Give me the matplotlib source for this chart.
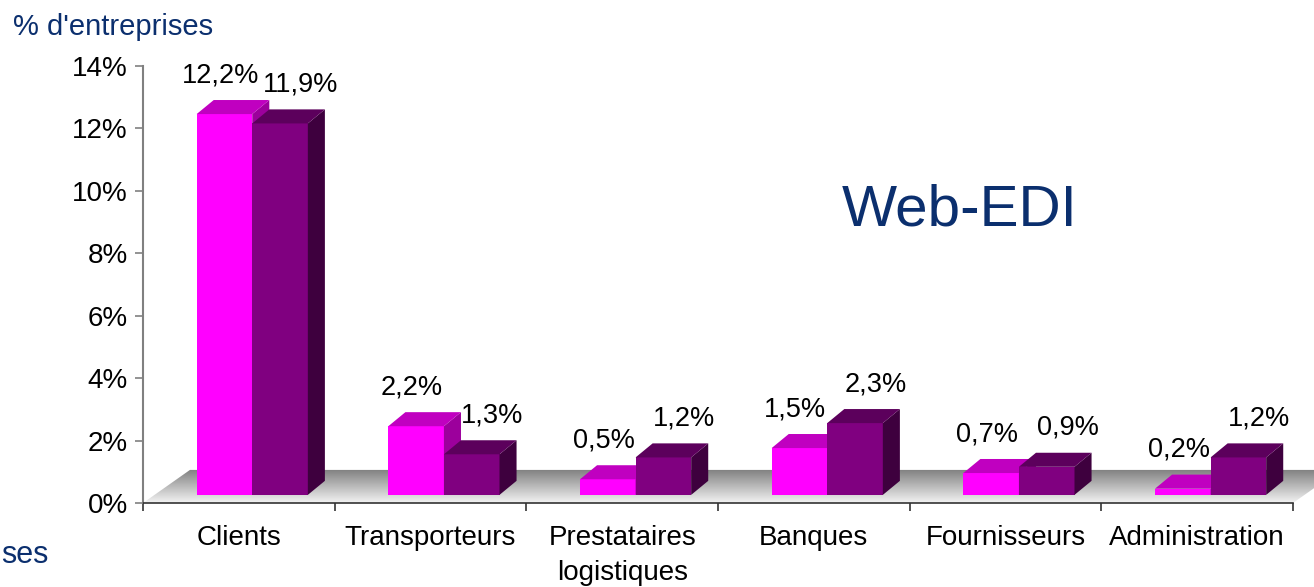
import numpy as np
import matplotlib.pyplot as plt
from matplotlib.patches import Polygon
from matplotlib.ticker import FuncFormatter

# Web-EDI : part d'entreprises par type de partenaire (deux séries)
categories = ['Clients', 'Transporteurs', 'Prestataires\nlogistiques', 'Banques',
              'Fournisseurs', 'Administration']
serie_rose = [12.2, 2.2, 0.5, 1.5, 0.7, 0.2]
serie_violet = [11.9, 1.3, 1.2, 2.3, 0.9, 1.2]
y_ticks = [0, 2, 4, 6, 8, 10, 12, 14]

ROSE = dict(front='#ff00ff', top='#c000c0', side='#9c009c')
VIOLET = dict(front='#800080', top='#5c005c', side='#3e003e')
BLUE = '#0b2f6e'

# fake-3D geometry (data units)
W = 0.29             # bar width
SHIFT = 0.07         # perspective shift of each pair
DX, DY = 0.089, 0.45  # bar depth
B0 = 0.26            # bars stand a bit into the floor
FDX, FDY = 0.245, 1.06  # floor depth

plt.rcParams['font.family'] = ['Liberation Sans', 'DejaVu Sans']

fig = plt.figure(figsize=(13.14, 5.87), dpi=100)
ax = fig.add_axes([143 / 1314, 84 / 587, (6.25 * 1150 / 6) / 1314, 437 / 587])

n = len(categories)

# floor with gradient
floor = Polygon([(0, 0), (n, 0), (n + FDX, FDY), (FDX, FDY)], closed=True,
                facecolor='none', edgecolor='none')
ax.add_patch(floor)
grad = np.linspace(0.95, 0.5, 64).reshape(-1, 1)
im = ax.imshow(grad, cmap='gray', vmin=0, vmax=1, origin='lower', aspect='auto',
               extent=(0, n + FDX, 0, FDY), zorder=1, interpolation='bilinear')
im.set_clip_path(floor)


def draw_bars(lefts, vals, col, z):
    ax.bar(lefts, vals, width=W, bottom=B0, align='edge', color=col['front'],
           zorder=z, linewidth=0)
    for l, v in zip(lefts, vals):
        t = B0 + v
        ax.add_patch(Polygon([(l + W, B0), (l + W + DX, B0 + DY), (l + W + DX, t + DY), (l + W, t)],
                             closed=True, color=col['side'], zorder=z, linewidth=0))
        ax.add_patch(Polygon([(l, t), (l + W, t), (l + W + DX, t + DY), (l + DX, t + DY)],
                             closed=True, color=col['top'], zorder=z, linewidth=0))


x = np.arange(n)
left_r = x + 0.5 + SHIFT - W
left_v = x + 0.5 + SHIFT
draw_bars(left_r, serie_rose, ROSE, 2)
draw_bars(left_v, serie_violet, VIOLET, 3)

fmt = lambda v: f'{v:.1f}%'.replace('.', ',')
for l, v in zip(left_r, serie_rose):
    ax.annotate(fmt(v), (l + W / 2, B0 + v), xytext=(-3, 28), textcoords='offset points',
                ha='center', va='center', fontsize=19.5, annotation_clip=False, zorder=5)
for l, v in zip(left_v, serie_violet):
    ax.annotate(fmt(v), (l + W / 2, B0 + v), xytext=(15, 28), textcoords='offset points',
                ha='center', va='center', fontsize=19.5, annotation_clip=False, zorder=5)

ax.set_xlim(0, n + 0.25)
ax.set_ylim(0, 14)
ax.set_yticks(y_ticks)
ax.yaxis.set_major_formatter(FuncFormatter(lambda v, p: f'{v:.0f}%'))
ax.tick_params(axis='y', labelsize=20, length=6, width=1.2, color='#808080', pad=5)

ax.set_xticks(x + 0.5)
ax.set_xticklabels(categories, fontsize=20, linespacing=1.45)
ax.set_xticks(np.arange(n + 1), minor=True)
ax.tick_params(axis='x', which='major', length=0, pad=16)
ax.tick_params(axis='x', which='minor', length=6, width=1.2, color='#333333')

for s in ('top', 'right'):
    ax.spines[s].set_visible(False)
ax.spines['bottom'].set_bounds(0, n)
ax.spines['bottom'].set_color('#333333')
ax.spines['bottom'].set_linewidth(1.2)
ax.spines['left'].set_color('#808080')
ax.spines['left'].set_linewidth(1.5)
ax.set_axisbelow(False)

fig.text(13 / 1314, 1 - 35 / 587, "% d'entreprises", fontsize=21, color=BLUE,
         ha='left', va='baseline')
fig.text(842 / 1314, 1 - 225 / 587, 'Web-EDI', fontsize=42, color=BLUE,
         ha='left', va='baseline')
fig.text(1 / 1314, 1 - 563 / 587, 'ses', fontsize=22, color=BLUE,
         ha='left', va='baseline')

fig.savefig('out.png', dpi=100)
